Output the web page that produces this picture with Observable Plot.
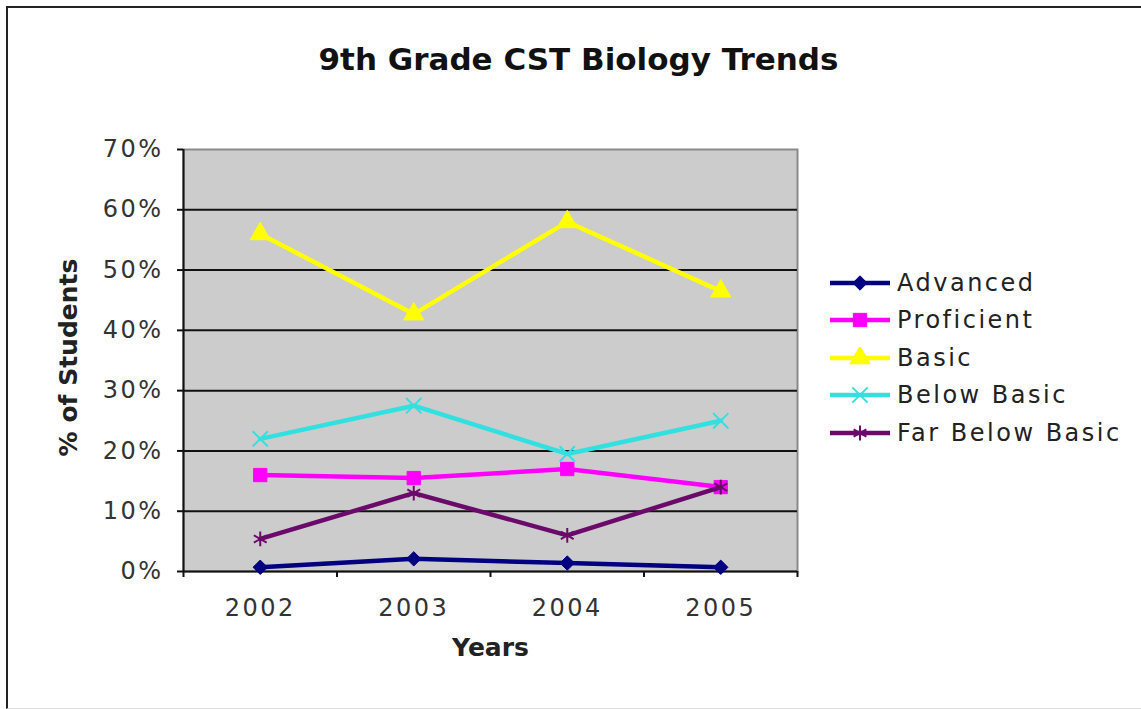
<!DOCTYPE html>
<html>
<head>
<meta charset="utf-8">
<script src="https://cdn.jsdelivr.net/npm/d3@7"></script>
<script src="https://cdn.jsdelivr.net/npm/@observablehq/plot@0.6"></script>
<style>
  html, body { margin: 0; padding: 0; background: #fff; }
  #wrap { position: relative; width: 1141px; height: 709px; overflow: hidden; font-family: "DejaVu Sans", Verdana, sans-serif; }
  #border { position: absolute; left: 6px; top: 6px; right: -4px; bottom: 0px; border-left: 2px solid #222; border-top: 2px solid #222; border-bottom: 1px solid #ddd; }
  #chart { position: absolute; left: 0; top: 0; }
  #chart svg g[aria-label$="tick label"] text { letter-spacing: 2.5px; }
  #chart svg g[aria-label="axis-title"] text { letter-spacing: 2px; }
  #legend { position: absolute; left: 829px; top: 264px; font-family: "DejaVu Sans", Verdana, sans-serif; font-size: 24px; letter-spacing: 2.5px; color: #222; }
  .row { display: flex; align-items: center; height: 37.5px; }
  .row svg { margin-right: 6px; }
</style>
</head>
<body>
<div id="wrap">
  <div id="border"></div>
  <div id="chart"></div>
  <div id="legend"></div>
</div>
<script>
const years = ["2002", "2003", "2004", "2005"];
const seriesNames = ["Advanced", "Proficient", "Basic", "Below Basic", "Far Below Basic"];
const advanced     = [0.7, 2.1, 1.4, 0.7];
const proficient   = [16, 15.5, 17, 14];
const basic        = [56, 42.7, 58, 46.5];
const belowBasic   = [22, 27.5, 19.5, 25];
const farBelowBasic= [5.4, 13, 6, 14];
const yTicks = [0, 10, 20, 30, 40, 50, 60, 70];
const colors = ["#000080", "#ff00ff", "#ffff00", "#33e0e0", "#6b0a6b"];
const symbols = ["diamond2", "square", "triangle", "times", "asterisk"];

const seriesValues = [advanced, proficient, basic, belowBasic, farBelowBasic];
const data = [];
seriesNames.forEach((name, s) => {
  years.forEach((yr, i) => {
    data.push({series: name, year: yr, xi: i + 0.5, value: seriesValues[s][i]});
  });
});

const font = "DejaVu Sans, Verdana, sans-serif";
const filled = {"diamond2": true, "square": true, "triangle": true};
const sizes = {"diamond2": 6.5, "square": 7.5, "triangle": 7.5, "times": 7, "asterisk": 7};

const marks = [
  Plot.frame({fill: "#cccccc", stroke: "#8a8a8a", strokeWidth: 2}),
  Plot.ruleY(yTicks.filter(d => d > 0 && d < 70), {stroke: "#111", strokeWidth: 2}),
  Plot.ruleY([0], {stroke: "#111", strokeWidth: 2}),
  Plot.ruleX([0], {stroke: "#111", strokeWidth: 2}),
  Plot.axisY({ticks: yTicks, tickFormat: d => d + "%", tickSize: 6, tickPadding: 14, fontSize: 24, stroke: "#111", strokeWidth: 2, fill: "#333", label: null, fontFamily: font}),
  Plot.axisX({ticks: [0, 1, 2, 3, 4], tickSize: 6, tickFormat: () => "", stroke: "#111", strokeWidth: 2, label: null}),
  Plot.axisX({ticks: years.map((d, i) => i + 0.5), tickSize: 0, tickPadding: 27, tickFormat: v => years[Math.round(v - 0.5)], fontSize: 24, fill: "#333", label: null, fontFamily: font}),
];
seriesNames.forEach((name, s) => {
  const rows = data.filter(d => d.series === name);
  marks.push(Plot.line(rows, {x: "xi", y: "value", stroke: colors[s], strokeWidth: 4.5, strokeLinejoin: "round"}));
  marks.push(Plot.dot(rows, {x: "xi", y: "value", symbol: () => symbols[s], r: sizes[symbols[s]],
    fill: filled[symbols[s]] ? colors[s] : "none", stroke: colors[s], strokeWidth: filled[symbols[s]] ? 1 : 2}));
});
marks.push(
  Plot.text(["9th Grade CST Biology Trends"], {frameAnchor: "top", dx: 88, dy: -102, fontSize: 31, fontWeight: "bold", fill: "#111", fontFamily: font}),
  Plot.text(["Years"], {frameAnchor: "bottom", dy: 84, fontSize: 25, fontWeight: "bold", fill: "#222", fontFamily: font, ariaLabel: "axis-title"}),
  Plot.text(["% of Students"], {frameAnchor: "left", textAnchor: "middle", dx: -115, dy: -3, rotate: -90, fontSize: 25, fontWeight: "bold", fill: "#222", fontFamily: font, ariaLabel: "axis-title"})
);

const chart = Plot.plot({
  width: 1141,
  height: 709,
  marginLeft: 183,
  marginRight: 344,
  marginTop: 149,
  marginBottom: 138,
  style: {background: "transparent", fontFamily: font, overflow: "visible"},
  x: {type: "linear", domain: [0, 4]},
  y: {domain: [0, 70]},
  symbol: {type: "identity"},
  marks
});
document.getElementById("chart").appendChild(chart);

// Legend
const legend = document.getElementById("legend");
const symMap = {diamond2: d3.symbolDiamond2, square: d3.symbolSquare, triangle: d3.symbolTriangle, times: d3.symbolTimes, asterisk: d3.symbolAsterisk};
seriesNames.forEach((name, s) => {
  const row = document.createElement("div");
  row.className = "row";
  const svg = d3.create("svg").attr("width", 62).attr("height", 22);
  svg.append("line").attr("x1", 1).attr("x2", 61).attr("y1", 11).attr("y2", 11)
    .attr("stroke", colors[s]).attr("stroke-width", 4.5);
  const r = sizes[symbols[s]];
  svg.append("path").attr("transform", "translate(31,11)")
    .attr("d", d3.symbol(symMap[symbols[s]], Math.PI * r * r)())
    .attr("fill", filled[symbols[s]] ? colors[s] : "none")
    .attr("stroke", colors[s]).attr("stroke-width", filled[symbols[s]] ? 1 : 2);
  row.appendChild(svg.node());
  const label = document.createElement("span");
  label.textContent = name;
  row.appendChild(label);
  legend.appendChild(row);
});
</script>
</body>
</html>
